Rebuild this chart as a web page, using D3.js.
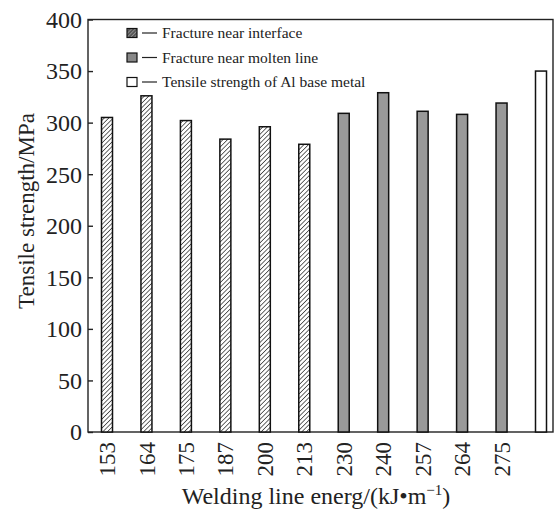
<!DOCTYPE html>
<html>
<head>
<meta charset="utf-8">
<script src="https://cdn.jsdelivr.net/npm/d3@7"></script>
<style>
  body { margin: 0; background: #fff; }
  svg { font-family: "Liberation Serif", "DejaVu Serif", serif; }
</style>
</head>
<body>
<div id="chart"></div>
<script>
// welding line energy categories (last one is the Al base metal reference, no label)
const energies = ["153", "164", "175", "187", "200", "213", "230", "240", "257", "264", "275", ""];
const strengths = [305, 326, 302, 284, 296, 279, 309, 329, 311, 308, 319, 350];
const kinds = ["interface", "interface", "interface", "interface", "interface", "interface",
               "molten", "molten", "molten", "molten", "molten", "base"];
const yTicks = [0, 50, 100, 150, 200, 250, 300, 350, 400];
const legendLabels = ["Fracture near interface", "Fracture near molten line", "Tensile strength of Al base metal"];
const legendKinds = ["interface", "molten", "base"];

const W = 555, H = 510;
const plot = { left: 88, right: 553, top: 19.5, bottom: 432 };

const svg = d3.select("#chart").append("svg")
    .attr("width", W)
    .attr("height", H);

// hatch patterns: light one for the bars, darker one for the small legend key
const defs = svg.append("defs");
function hatch(id, bg, fg, size, sw) {
    const p = defs.append("pattern")
        .attr("id", id)
        .attr("patternUnits", "userSpaceOnUse")
        .attr("width", size)
        .attr("height", size)
        .attr("patternTransform", "rotate(45)");
    p.append("rect").attr("width", size).attr("height", size).attr("fill", bg);
    p.append("line")
        .attr("x1", 0).attr("y1", 0).attr("x2", 0).attr("y2", size)
        .attr("stroke", fg).attr("stroke-width", sw);
}
hatch("hatch", "#fff", "#444", 3.2, 1.6);
hatch("hatchKey", "#555", "#bbb", 2.6, 1);

const fills = { interface: "url(#hatch)", molten: "#999", base: "#fff" };
const keyFills = { interface: "url(#hatchKey)", molten: "#888", base: "#fff" };

const x = d3.scalePoint()
    .domain(d3.range(energies.length))
    .range([107, 541]);
const y = d3.scaleLinear()
    .domain([0, 400])
    .range([plot.bottom, plot.top]);
const barW = 11;

// frame
svg.append("rect")
    .attr("x", plot.left)
    .attr("y", plot.top)
    .attr("width", plot.right - plot.left)
    .attr("height", plot.bottom - plot.top)
    .attr("fill", "none")
    .attr("stroke", "#222")
    .attr("stroke-width", 1.4);

// bars
svg.append("g").selectAll("rect")
    .data(strengths)
    .join("rect")
    .attr("x", (d, i) => x(i) - barW / 2)
    .attr("y", d => y(d))
    .attr("width", barW)
    .attr("height", d => y(0) - y(d))
    .attr("fill", (d, i) => fills[kinds[i]])
    .attr("stroke", "#111")
    .attr("stroke-width", 1.5);

// y axis, ticks pointing inward
const yAxis = svg.append("g")
    .attr("transform", `translate(${plot.left},0)`)
    .call(d3.axisRight(y).tickValues(yTicks).tickSize(5).tickFormat(""));
yAxis.select(".domain").remove();
yAxis.selectAll("line").attr("stroke", "#222").attr("stroke-width", 1.4);

svg.append("g").selectAll("text")
    .data(yTicks)
    .join("text")
    .attr("x", 82)
    .attr("y", d => y(d))
    .attr("dy", "0.35em")
    .attr("text-anchor", "end")
    .attr("font-size", 24)
    .attr("fill", "#222")
    .text(d => d);

// x tick labels, rotated
svg.append("g").selectAll("text")
    .data(energies)
    .join("text")
    .attr("transform", (d, i) => `translate(${x(i)},442) rotate(-90)`)
    .attr("dy", "0.35em")
    .attr("text-anchor", "end")
    .attr("font-size", 23)
    .attr("fill", "#222")
    .text(d => d);

// axis titles
svg.append("text")
    .attr("transform", `translate(34,211) rotate(-90)`)
    .attr("text-anchor", "middle")
    .attr("font-size", 23)
    .attr("fill", "#222")
    .text("Tensile strength/MPa");

const xt = svg.append("text")
    .attr("x", 316)
    .attr("y", 504)
    .attr("text-anchor", "middle")
    .attr("font-size", 24)
    .attr("fill", "#222");
xt.append("tspan").text("Welding line energ/(kJ\u2022m");
xt.append("tspan").attr("dy", -9).attr("font-size", 15).text("\u22121");
xt.append("tspan").attr("dy", 9).text(")");

// legend
const leg = svg.append("g").selectAll("g")
    .data(legendLabels)
    .join("g")
    .attr("transform", (d, i) => `translate(127,${33 + i * 24.5})`);
leg.append("rect")
    .attr("x", 0).attr("y", -4.5)
    .attr("width", 10).attr("height", 9)
    .attr("fill", (d, i) => keyFills[legendKinds[i]])
    .attr("stroke", "#111")
    .attr("stroke-width", 1.2);
leg.append("line")
    .attr("x1", 15).attr("x2", 30)
    .attr("y1", 0).attr("y2", 0)
    .attr("stroke", "#222").attr("stroke-width", 1.2);
leg.append("text")
    .attr("x", 35)
    .attr("dy", "0.35em")
    .attr("font-size", 15.5)
    .attr("fill", "#222")
    .text(d => d);
</script>
</body>
</html>
